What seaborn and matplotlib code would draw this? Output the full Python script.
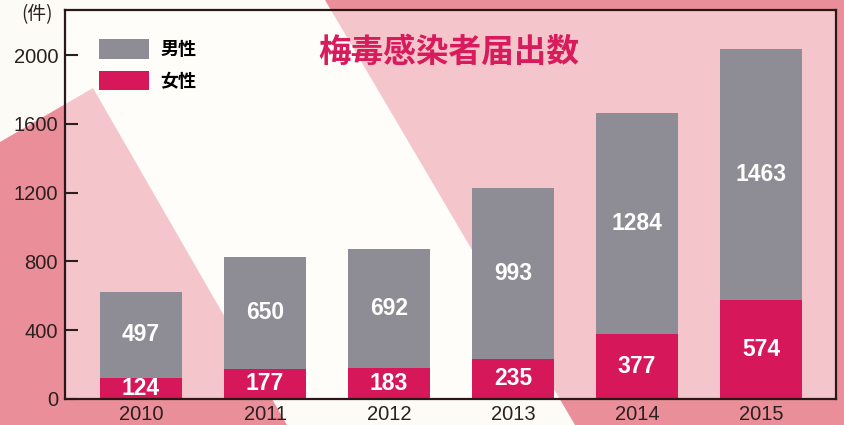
import matplotlib
matplotlib.use("Agg")
import matplotlib.pyplot as plt
from matplotlib.patches import Polygon
import pandas as pd
import seaborn as sns

# データ
years = ['2010', '2011', '2012', '2013', '2014', '2015']
male = [497, 650, 692, 993, 1284, 1463]
female = [124, 177, 183, 235, 377, 574]
yticks = [0, 400, 800, 1200, 1600, 2000]

title = '梅毒感染者届出数'
unit = '(件)'
male_label = '男性'
female_label = '女性'

male_color = '#8e8c94'
female_color = '#d6175a'
title_color = '#d81b5c'
pink_bg = '#ea8e99'
text_color = '#2b2020'

plt.rcParams['font.family'] = ['Liberation Sans', 'Noto Sans CJK JP']
cjk = ['Noto Sans CJK JP', 'DejaVu Sans']

df = pd.DataFrame({'year': years, 'male': male, 'female': female})

W, H = 844, 425
fig = plt.figure(figsize=(W / 100, H / 100), dpi=100, facecolor=pink_bg)

# 背景の白い帯
band = [(0, 0), (325, 0), (575, 425), (287, 425), (93, 88), (0, 142)]
fig.add_artist(Polygon([(x / W, 1 - y / H) for x, y in band], closed=True,
                       transform=fig.transFigure, facecolor='#fdfbf6',
                       edgecolor='none', zorder=-1))

ax = fig.add_axes([65 / W, 26 / H, 771 / W, 389 / H])
ax.set_facecolor((1, 1, 1, 0.5))

sns.barplot(data=df, x='year', y='female', color=female_color, saturation=1,
            width=0.66, errorbar=None, label=female_label, ax=ax)
sns.barplot(data=df, x='year', y='male', bottom=df['female'].to_numpy(),
            color=male_color, saturation=1, width=0.66, errorbar=None,
            label=male_label, ax=ax)

for c in ax.containers:
    ax.bar_label(c, label_type='center', color='white', fontsize=16.5,
                 fontweight='bold')

ax.set_xlim(-0.613, 5.605)
ax.set_ylim(0, 2262)
ax.set_yticks(yticks)
ax.set_xlabel('')
ax.set_ylabel('')

ax.tick_params(axis='y', direction='in', length=9, width=1.5, labelsize=14.5,
               pad=5, colors=text_color)
ax.tick_params(axis='x', length=0, labelsize=14.5, pad=4, colors=text_color)
for s in ax.spines.values():
    s.set_linewidth(1.6)
    s.set_color('#2a1818')

handles, labels = ax.get_legend_handles_labels()
ax.legend(handles[::-1], labels[::-1], loc='upper left',
          bbox_to_anchor=(0.044, 0.925), frameon=False, borderpad=0,
          borderaxespad=0, handlelength=2.8, handleheight=1.28,
          labelspacing=0.67, handletextpad=0.6,
          prop={'family': cjk, 'weight': 'bold', 'size': 13})

ax.text(0.498, 0.892, title, transform=ax.transAxes, ha='center', va='center',
        fontsize=23.5, fontweight='bold', color=title_color, family=cjk)
fig.text(37 / W, 1 - 15 / H, unit, ha='center', va='center', fontsize=13.5,
         color=text_color, family=cjk)

fig.savefig('out.png', dpi=100, facecolor=pink_bg)
